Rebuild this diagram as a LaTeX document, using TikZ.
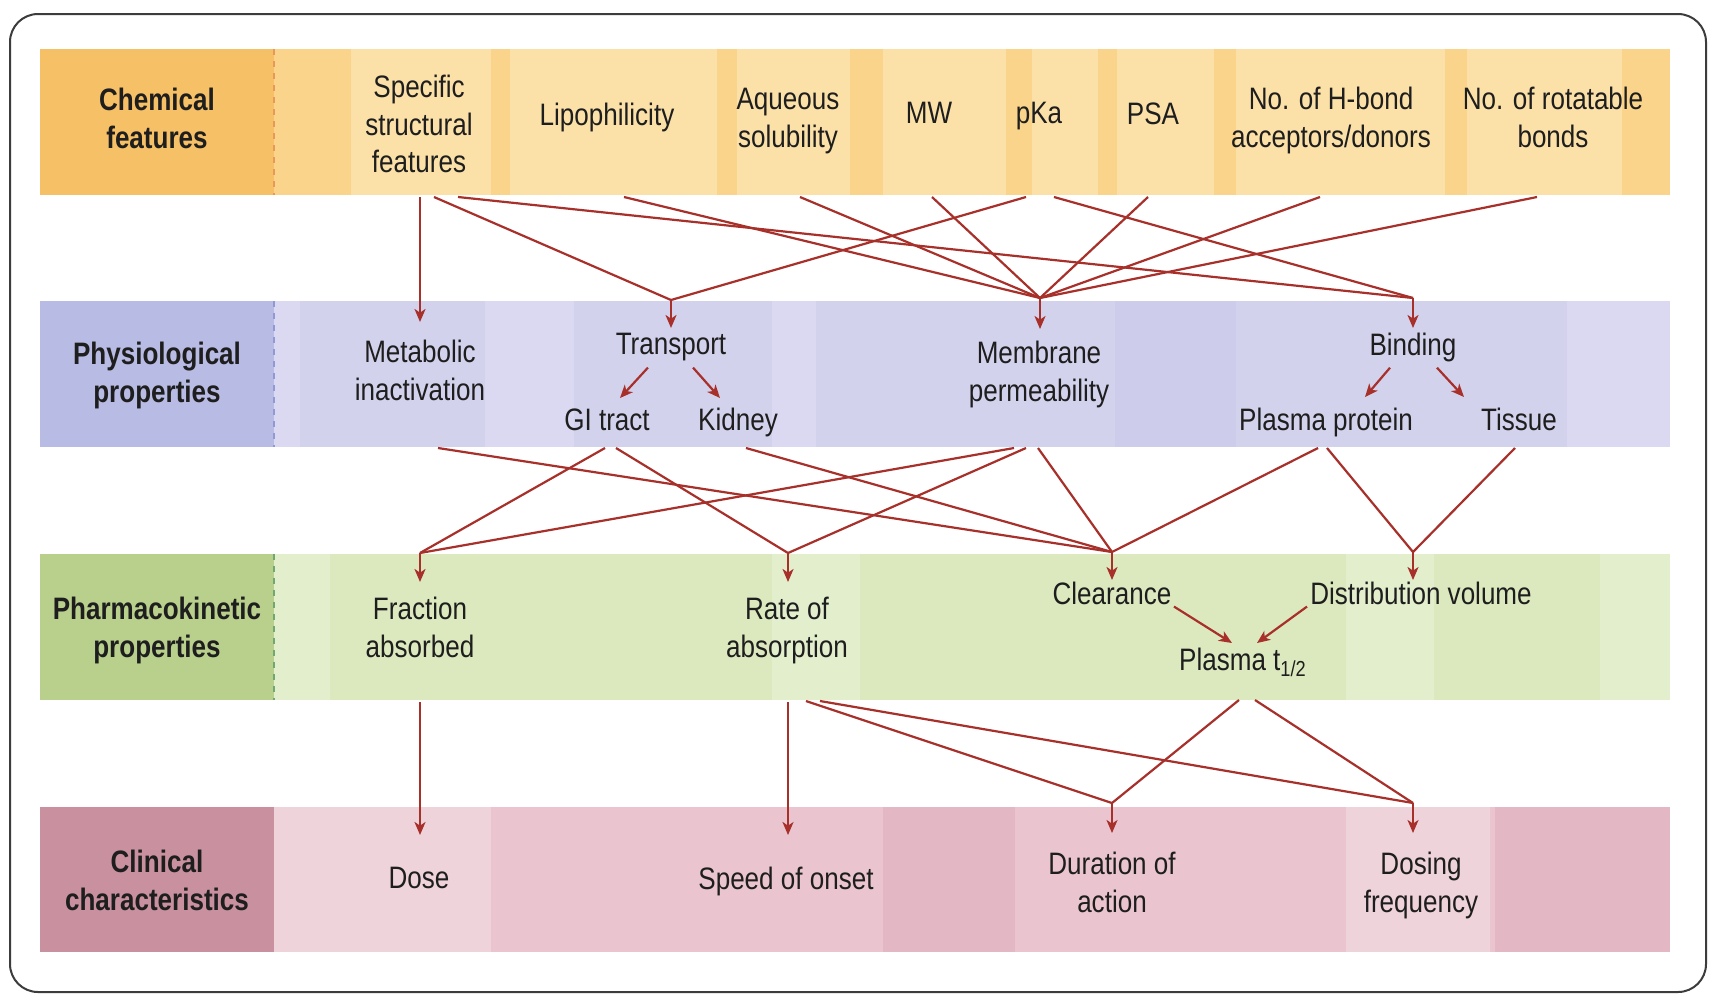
\documentclass[tikz,border=0pt]{standalone}
\usepackage{fontspec}
\setmainfont[FakeStretch=0.84]{Liberation Sans}
\usetikzlibrary{arrows.meta,calc}
\definecolor{arr}{HTML}{A8302A}
\definecolor{txt}{HTML}{1E1E1E}
\definecolor{framec}{HTML}{3C3C3C}
\definecolor{chemH}{HTML}{F6C066}
\definecolor{chemB}{HTML}{F9D48A}
\definecolor{chemL}{HTML}{FBE0A8}
\definecolor{chemD}{HTML}{E8985A}
\definecolor{physH}{HTML}{B8BBE3}
\definecolor{physB}{HTML}{D3D2ED}
\definecolor{physL}{HTML}{DAD9F1}
\definecolor{physK}{HTML}{CDCCEA}
\definecolor{physD}{HTML}{9099D2}
\definecolor{pkH}{HTML}{B9D08D}
\definecolor{pkB}{HTML}{DCE9BE}
\definecolor{pkL}{HTML}{E3EECD}
\definecolor{pkD}{HTML}{6FA870}
\definecolor{clH}{HTML}{C9919F}
\definecolor{clB}{HTML}{EAC5CF}
\definecolor{clL}{HTML}{EFD3DA}
\definecolor{clK}{HTML}{E3B7C3}
\begin{document}
\begin{tikzpicture}[x=0.5pt,y=-0.5pt,
  lb/.style={font=\fontsize{15.5}{18.75}\selectfont, text=txt, align=center, inner sep=0pt, anchor=north},
  hd/.style={lb, font=\bfseries\fontsize{15.5}{18.75}\selectfont},
  link/.style={draw=arr, line width=1.1pt},
  arrw/.style={link, -{Stealth[length=6.5pt,width=5.5pt,inset=1.8pt]}},
]
\useasboundingbox (0,0) rectangle (1730,1003);
\fill[white] (0,0) rectangle (1730,1003);

% ---------- bands ----------
% chemical
\fill[chemB] (40,49) rectangle (1670,195);
\foreach \a/\b in {351/491,510/717,737/850,883/1006,1032/1098,1117/1214,1236/1445,1467/1622}
  \fill[chemL] (\a,49) rectangle (\b,195);
\fill[chemH] (40,49) rectangle (274,195);
\draw[chemD, dashed, line width=0.6pt] (274,49) -- (274,195);
% physiological
\fill[physB] (40,301) rectangle (1670,447);
\foreach \a/\b in {274/300,485/574,772/816,1567/1670}
  \fill[physL] (\a,301) rectangle (\b,447);
\fill[physK] (1115,301) rectangle (1236,447);
\fill[physH] (40,301) rectangle (274,447);
\draw[physD, dashed, line width=0.6pt] (274,301) -- (274,447);
% pharmacokinetic
\fill[pkB] (40,554) rectangle (1670,700);
\foreach \a/\b in {274/330,772/860,1346/1434,1600/1670}
  \fill[pkL] (\a,554) rectangle (\b,700);
\fill[pkH] (40,554) rectangle (274,700);
\draw[pkD, dashed, line width=0.6pt] (274,554) -- (274,700);
% clinical
\fill[clB] (40,807) rectangle (1670,952);
\foreach \a/\b in {274/491,1346/1490}
  \fill[clL] (\a,807) rectangle (\b,952);
\foreach \a/\b in {883/1015,1495/1670}
  \fill[clK] (\a,807) rectangle (\b,952);
\fill[clH] (40,807) rectangle (274,952);

% frame
\draw[framec, line width=1pt, rounded corners=14pt] (10,14) rectangle (1706,992);

% ---------- nodes ----------
\node[hd] (hChem) at (157,88) {Chemical\\features};
\node[lb] (spec) at (419,75) {Specific\\structural\\features};
\node[lb] (lipo) at (607,103) {Lipophilicity};
\node[lb] (aq) at (788,88) {Aqueous\\solubility};
\node[lb] (mw) at (929,102) {MW};
\node[lb] (pka) at (1039,102) {pKa};
\node[lb] (psa) at (1153,102) {PSA};
\node[lb] (hb) at (1331,87) {No. of H-bond\\acceptors/donors};
\node[lb] (rot) at (1553,87) {No. of rotatable\\bonds};

\node[hd] (hPhys) at (157,342) {Physiological\\properties};
\node[lb] (meta) at (420,340) {Metabolic\\inactivation};
\node[lb] (trans) at (671,333) {Transport};
\node[lb] (gi) at (607,408) {GI tract};
\node[lb] (kid) at (738,408) {Kidney};
\node[lb] (memb) at (1039,341) {Membrane\\permeability};
\node[lb] (bind) at (1413,333) {Binding};
\node[lb] (pp) at (1326,408) {Plasma protein};
\node[lb] (tis) at (1519,408) {Tissue};

\node[hd] (hPK) at (157,597) {Pharmacokinetic\\properties};
\node[lb] (frac) at (420,597) {Fraction\\absorbed};
\node[lb] (rate) at (787,597) {Rate of\\absorption};
\node[lb] (clear) at (1112,582) {Clearance};
\node[lb] (dist) at (1421,582) {Distribution volume};
\node[lb] (pt) at (1243,648) {Plasma t\textsubscript{1/2}};

\node[hd] (hClin) at (157,850) {Clinical\\characteristics};
\node[lb] (dose) at (419,867) {Dose};
\node[lb] (speed) at (786,867) {Speed of onset};
\node[lb] (dur) at (1112,852) {Duration of\\action};
\node[lb] (dosf) at (1421,852) {Dosing\\frequency};

% ---------- junctions and start points ----------
\coordinate (jTrans) at (671,300);
\coordinate (jMemb) at (1040,298);
\coordinate (jBind) at (1413,298);
\coordinate (spec-a) at (420,197);
\coordinate (spec-b) at (434,197);
\coordinate (spec-c) at (458,197);
\coordinate (lipo-a) at (624,197);
\coordinate (aq-a) at (800,197);
\coordinate (mw-a) at (932,197);
\coordinate (pka-a) at (1026,197);
\coordinate (pka-b) at (1054,197);
\coordinate (psa-a) at (1148,197);
\coordinate (hb-a) at (1320,197);
\coordinate (rot-a) at (1537,197);

\coordinate (jFrac) at (420,553);
\coordinate (jRate) at (788,553);
\coordinate (jClear) at (1112,552);
\coordinate (jDist) at (1413,552);
\coordinate (meta-a) at (438,448);
\coordinate (gi-a) at (605,448);
\coordinate (gi-b) at (616,448);
\coordinate (kid-a) at (746,448);
\coordinate (memb-a) at (1014,448);
\coordinate (memb-b) at (1026,448);
\coordinate (memb-c) at (1038,448);
\coordinate (pp-a) at (1318,448);
\coordinate (pp-b) at (1327,448);
\coordinate (tis-a) at (1515,448);

\coordinate (jDur) at (1112,803);
\coordinate (jDosf) at (1413,803);
\coordinate (frac-a) at (420,702);
\coordinate (rate-a) at (788,702);
\coordinate (rate-b) at (806,701);
\coordinate (rate-c) at (820,701);
\coordinate (pt-a) at (1239,700);
\coordinate (pt-b) at (1255,700);

% ---------- connectors: chemical -> physiological ----------
\draw[arrw, shorten >=9pt] (spec-a) -- (spec-a |- meta.north);
\draw[link] (spec-b) -- (jTrans);
\draw[link] (pka-a) -- (jTrans);
\draw[arrw, shorten >=2.5pt] (jTrans) -- (jTrans |- trans.north);
\foreach \s in {lipo-a,aq-a,mw-a,psa-a,hb-a,rot-a}
  \draw[link] (\s) -- (jMemb);
\draw[arrw, shorten >=6pt] (jMemb) -- (jMemb |- memb.north);
\draw[link] (spec-c) -- (jBind);
\draw[link] (pka-b) -- (jBind);
\draw[arrw, shorten >=2.5pt] (jBind) -- (jBind |- bind.north);

% within physiological
\draw[arrw] ($(trans.south)+(-23,6)$) -- ($(gi.north)+(13,-10)$);
\draw[arrw] ($(trans.south)+(22,6)$) -- ($(kid.north)+(-18,-10)$);
\draw[arrw] ($(bind.south)+(-23,5)$) -- ($(pp.north)+(39,-11)$);
\draw[arrw] ($(bind.south)+(24,5)$) -- ($(tis.north)+(-55,-11)$);

% ---------- physiological -> pharmacokinetic ----------
\draw[link] (gi-a) -- (jFrac);
\draw[link] (memb-a) -- (jFrac);
\draw[arrw, shorten >=7.5pt] (jFrac) -- (jFrac |- frac.north);
\draw[link] (gi-b) -- (jRate);
\draw[link] (memb-b) -- (jRate);
\draw[arrw, shorten >=7.5pt] (jRate) -- (jRate |- rate.north);
\foreach \s in {meta-a,kid-a,memb-c,pp-a}
  \draw[link] (\s) -- (jClear);
\draw[arrw, shorten >=1pt] (jClear) -- (jClear |- clear.north);
\draw[link] (pp-b) -- (jDist);
\draw[link] (tis-a) -- (jDist);
\draw[arrw, shorten >=1pt] (jDist) -- (jDist |- dist.north);

% within pharmacokinetic
\draw[arrw] ($(clear.south)+(62,1)$) -- ($(pt.north)+(-11,-5)$);
\draw[arrw] ($(dist.south)+(-114,1)$) -- ($(pt.north)+(14,-5)$);

% ---------- pharmacokinetic -> clinical ----------
\draw[arrw, shorten >=16pt] (frac-a) -- (frac-a |- dose.north);
\draw[arrw, shorten >=16pt] (rate-a) -- (rate-a |- speed.north);
\draw[link] (rate-b) -- (jDur);
\draw[link] (pt-a) -- (jDur);
\draw[arrw, shorten >=9.5pt] (jDur) -- (jDur |- dur.north);
\draw[link] (rate-c) -- (jDosf);
\draw[link] (pt-b) -- (jDosf);
\draw[arrw, shorten >=9.5pt] (jDosf) -- (jDosf |- dosf.north);
\end{tikzpicture}
\end{document}
